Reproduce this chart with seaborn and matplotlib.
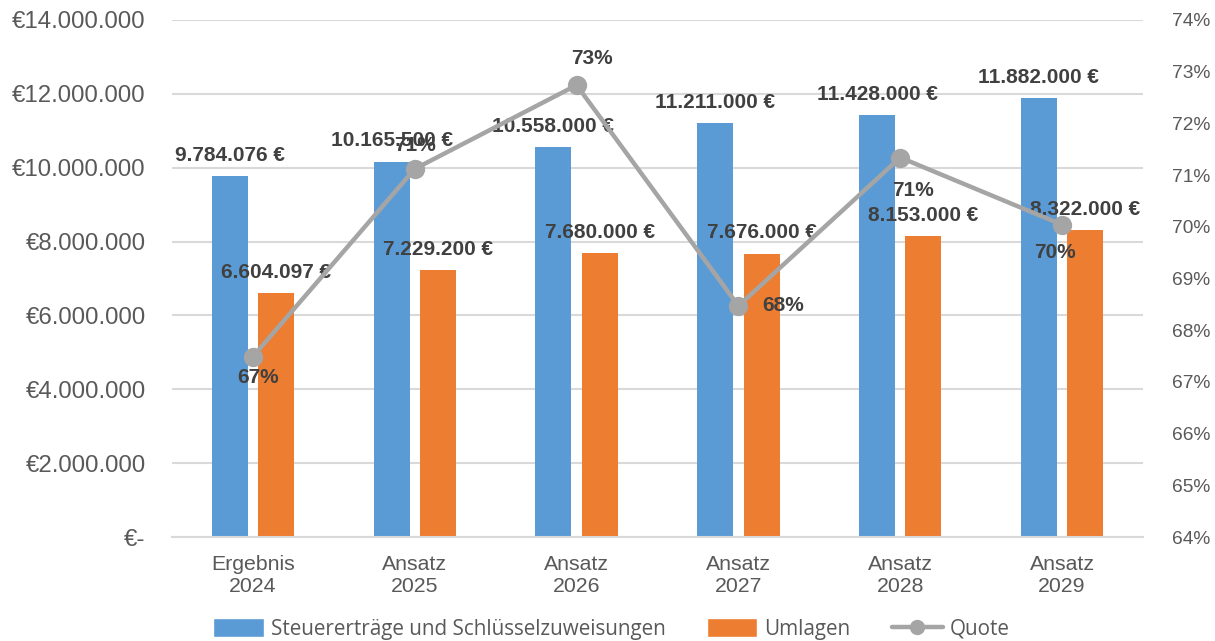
import numpy as np
import pandas as pd
import matplotlib
matplotlib.use("Agg")
import matplotlib.pyplot as plt
import matplotlib.patches as patches
from matplotlib.lines import Line2D
from matplotlib.ticker import FuncFormatter
import seaborn as sns

categories = ["Ergebnis\n2024", "Ansatz\n2025", "Ansatz\n2026",
              "Ansatz\n2027", "Ansatz\n2028", "Ansatz\n2029"]
series_names = ["Steuererträge und Schlüsselzuweisungen", "Umlagen"]
steuer = [9784076, 10165500, 10558000, 11211000, 11428000, 11882000]
umlagen = [6604097, 7229200, 7680000, 7676000, 8153000, 8322000]
quote = [67.49, 71.12, 72.74, 68.47, 71.34, 70.04]
quote_name = "Quote"

blue, orange, gray = "#5B9BD5", "#ED7D31", "#A5A5A5"
txt = "#595959"
lbl = "#404040"

# label offsets for the quote labels (points)
quote_offsets = [(4, -15), (0, 17), (11, 19), (32, 0), (9, -24), (-5, -20)]


def euro(v):
    return f"{v:,.0f}".replace(",", ".") + " €"


sns.set_style("white")
plt.rcParams["font.family"] = ["Liberation Sans", "DejaVu Sans"]

df = pd.DataFrame({
    "Kategorie": categories * 2,
    "Wert": steuer + umlagen,
    "Reihe": [series_names[0]] * len(categories) + [series_names[1]] * len(categories),
})

fig = plt.figure(figsize=(12.15, 6.41), dpi=100)
ax = fig.add_axes([172 / 1215, 1 - 537 / 641, (1143 - 172) / 1215, (537 - 20) / 641])

sns.barplot(data=df, x="Kategorie", y="Wert", hue="Reihe", palette=[blue, orange],
            width=0.573, gap=0.224, saturation=1, linewidth=0, ax=ax, legend=False)

ax.set_ylim(0, 14e6)
ax.set_yticks(np.arange(0, 14e6 + 1, 2e6))
ax.yaxis.set_major_formatter(FuncFormatter(
    lambda v, p: "€-" if v == 0 else "€" + f"{v:,.0f}".replace(",", ".")))
ax.set_xlabel("")
ax.set_ylabel("")
ax.yaxis.grid(True, color="#D9D9D9", lw=1.5)
ax.set_axisbelow(True)
for s in ["top", "left", "right"]:
    ax.spines[s].set_visible(False)
ax.spines["bottom"].set_color("#D9D9D9")
ax.spines["bottom"].set_linewidth(1.5)
ax.tick_params(axis="y", length=0, pad=19, labelsize=17.3, labelcolor=txt)
ax.tick_params(axis="x", length=0, pad=13, labelsize=15.3, labelcolor=txt)

for cont, vals in zip(ax.containers, [steuer, umlagen]):
    ax.bar_label(cont, labels=[euro(v) for v in vals], padding=8,
                 fontsize=15, fontweight="bold", color=lbl)

ax2 = ax.twinx()
sns.pointplot(x=categories, y=quote, ax=ax2, color=gray, markers="o",
              markersize=11.5, linewidth=3.2)
ax2.set_ylim(64, 74)
ax2.set_yticks(np.arange(64, 75, 1))
ax2.yaxis.set_major_formatter(FuncFormatter(lambda v, p: f"{v:.0f}%"))
ax2.set_ylabel("")
ax2.set_xlabel("")
for s in ax2.spines.values():
    s.set_visible(False)
ax2.tick_params(axis="y", length=0, pad=21, labelsize=13.8, labelcolor=txt)
ax2.grid(False)

for i, (q, off) in enumerate(zip(quote, quote_offsets)):
    ax2.annotate(f"{q:.0f}%", (i, q), xytext=off, textcoords="offset points",
                 ha="center", va="center", fontsize=15, fontweight="bold",
                 color=lbl, zorder=5)

handles = [
    patches.Patch(facecolor=blue, label=series_names[0]),
    patches.Patch(facecolor=orange, label=series_names[1]),
    Line2D([], [], color=gray, lw=3.2, marker="o", markersize=10, label=quote_name),
]
leg = fig.legend(handles=handles, loc="center", bbox_to_anchor=(0.503, 1 - 629 / 641),
                 ncol=3, frameon=False, prop={"family": "Open Sans", "size": 14.9},
                 handlelength=2.45, handleheight=1.0, handletextpad=0.33,
                 columnspacing=2.0)
for t in leg.get_texts():
    t.set_color(txt)

fig.savefig("out.png", dpi=100)
